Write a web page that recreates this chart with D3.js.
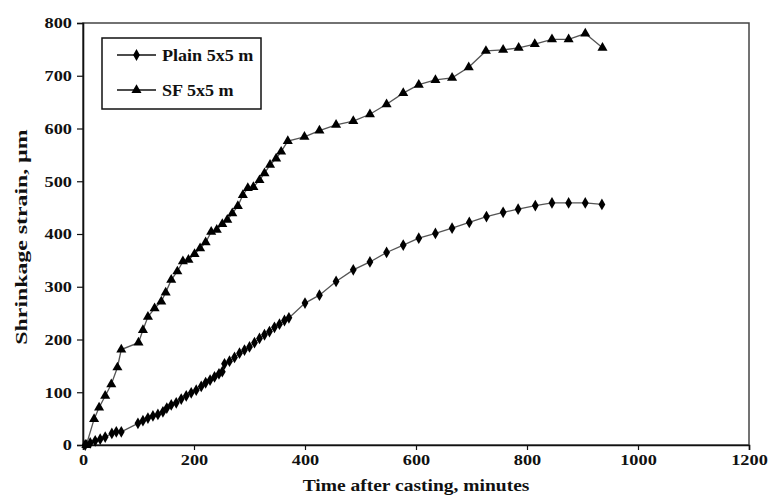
<!DOCTYPE html>
<html>
<head>
<meta charset="utf-8">
<script src="https://cdn.jsdelivr.net/npm/d3@7"></script>
<style>
  body { margin: 0; background: #fff; }
  svg { display: block; }
  text { font-family: "Liberation Serif", "Times New Roman", serif; font-weight: bold; fill: #111; }
</style>
</head>
<body>
<svg id="chart" width="769" height="495"></svg>
<script>
// Shrinkage strain (µm) against time after casting (minutes)
const plainTime   = [4, 13, 22, 31, 40, 52, 60, 69, 99, 108, 117, 126, 135, 144, 151, 159, 168, 177, 186, 195, 204, 213, 221, 229, 237, 245, 251, 255, 264, 273, 282, 291, 300, 309, 318, 327, 336, 345, 354, 363, 371, 400, 426, 456, 487, 517, 547, 577, 605, 635, 665, 696, 727, 757, 784, 815, 845, 875, 905, 935];
const plainStrain = [0, 4, 8, 11, 15, 22, 25, 25, 41, 46, 51, 55, 58, 63, 70, 76, 80, 87, 93, 99, 104, 111, 118, 123, 129, 135, 139, 154, 159, 166, 174, 180, 186, 194, 202, 209, 215, 223, 229, 236, 241, 269, 284, 310, 332, 347, 365, 379, 392, 401, 411, 422, 433, 441, 447, 454, 459, 459, 459, 456];

const sfTime   = [6, 20, 29, 40, 51, 62, 69, 100, 108, 117, 129, 141, 149, 159, 170, 180, 190, 201, 211, 221, 231, 241, 251, 260, 269, 279, 288, 297, 307, 318, 327, 337, 348, 357, 369, 399, 426, 456, 487, 517, 547, 577, 605, 635, 665, 695, 726, 757, 785, 814, 845, 875, 905, 936];
const sfStrain = [0, 49, 71, 93, 115, 147, 181, 194, 218, 243, 259, 272, 289, 313, 329, 348, 351, 362, 373, 384, 404, 408, 419, 427, 439, 453, 474, 487, 489, 502, 515, 531, 543, 556, 576, 584, 596, 607, 614, 627, 646, 667, 683, 692, 696, 716, 747, 749, 753, 760, 769, 769, 780, 753];

const seriesNames = ["Plain 5x5 m", "SF 5x5 m"];
const xTicks = [0, 200, 400, 600, 800, 1000, 1200];
const yTicks = [0, 100, 200, 300, 400, 500, 600, 700, 800];
const xTitle = "Time after casting, minutes";
const yTitle = "Shrinkage strain, µm";

const svg = d3.select("#chart");
const m = { left: 83, right: 749, top: 23, bottom: 445 };
const STRETCH = 1.22;

const x = d3.scaleLinear().domain([0, 1200]).range([m.left, m.right]);
const y = d3.scaleLinear().domain([0, 800]).range([m.bottom, m.top]);

// plot frame
svg.append("rect")
  .attr("x", m.left).attr("y", m.top)
  .attr("width", m.right - m.left).attr("height", m.bottom - m.top)
  .attr("fill", "none").attr("stroke", "#444").attr("stroke-width", 1.5);

// widen serif glyphs horizontally
function widen(sel) {
  sel.each(function () {
    const t = d3.select(this);
    const tx = +t.attr("x") || 0;
    t.attr("x", 0).attr("transform", `translate(${tx},0) scale(${STRETCH},1)`);
  });
}

const yAxis = svg.append("g")
  .attr("transform", `translate(${m.left},0)`)
  .call(d3.axisLeft(y).tickValues(yTicks).tickSize(6).tickPadding(5).tickFormat(d3.format("d")));
yAxis.selectAll("text").style("font-size", "15px").attr("fill", "#111");
yAxis.selectAll("text").call(widen);

const xAxis = svg.append("g")
  .attr("transform", `translate(0,${m.bottom})`)
  .call(d3.axisBottom(x).tickValues(xTicks).tickSize(5).tickPadding(4).tickFormat(d3.format("d")));
xAxis.selectAll("text").style("font-size", "15px").attr("fill", "#111");
xAxis.selectAll("text").call(widen);

[yAxis, xAxis].forEach(a => {
  a.select(".domain").attr("stroke", "#111").attr("stroke-width", 1.6);
  a.selectAll(".tick line").attr("stroke", "#111").attr("stroke-width", 1.2);
});

// axis titles
svg.append("text")
  .attr("transform", `translate(${(m.left + m.right) / 2},491) scale(${STRETCH},1)`)
  .attr("text-anchor", "middle").style("font-size", "16px").text(xTitle);

svg.append("text")
  .attr("transform", `translate(27,237) rotate(-90) scale(1.4,1)`)
  .attr("text-anchor", "middle").style("font-size", "17px").text(yTitle);

const plain = plainTime.map((t, i) => ({ t, v: plainStrain[i] }));
const sf = sfTime.map((t, i) => ({ t, v: sfStrain[i] }));

const line = d3.line().x(d => x(d.t)).y(d => y(d.v));
const diamond = d3.symbol().type(d3.symbolDiamond).size(40);
const triangle = d3.symbol().type(d3.symbolTriangle).size(44);

[[plain, diamond], [sf, triangle]].forEach(([data, sym]) => {
  svg.append("path").datum(data)
    .attr("d", line).attr("fill", "none")
    .attr("stroke", "#555").attr("stroke-width", 1.3);
  svg.append("g").selectAll("path").data(data).join("path")
    .attr("transform", d => `translate(${x(d.t)},${y(d.v)})`)
    .attr("d", sym).attr("fill", "#000");
});

// legend
const lg = svg.append("g");
lg.append("rect")
  .attr("x", 102).attr("y", 38).attr("width", 159).attr("height", 71)
  .attr("fill", "#fff").attr("stroke", "#111").attr("stroke-width", 1.5);
[diamond, triangle].forEach((sym, i) => {
  const cy = 55 + i * 35;
  lg.append("line").attr("x1", 117).attr("x2", 156).attr("y1", cy).attr("y2", cy)
    .attr("stroke", "#111").attr("stroke-width", 1.3);
  lg.append("path").attr("transform", `translate(136.5,${cy})`).attr("d", sym).attr("fill", "#000");
  lg.append("text")
    .attr("transform", `translate(162,${cy + 5.5}) scale(1.13,1)`)
    .style("font-size", "16px").text(seriesNames[i]);
});
</script>
</body>
</html>
